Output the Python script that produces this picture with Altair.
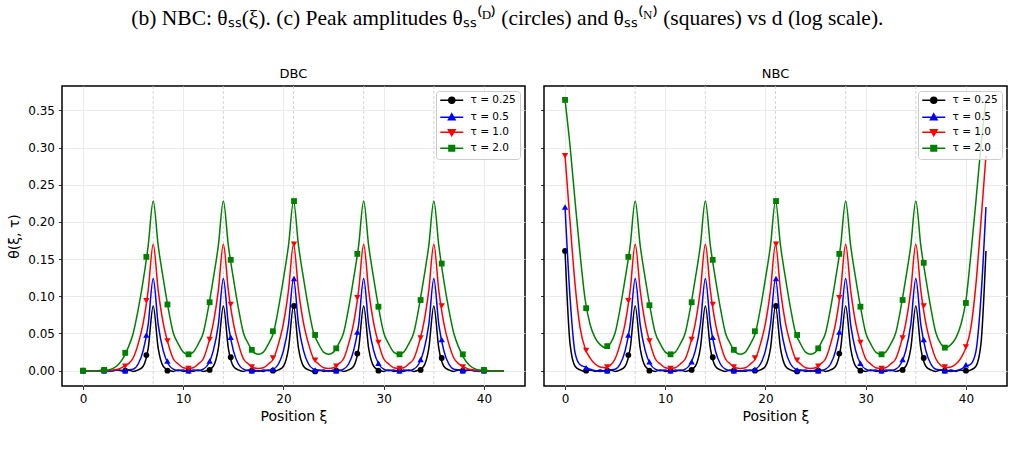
import altair as alt
import pandas as pd

# ---------------- data ----------------
X = [0, 0.5, 1, 1.5, 2, 2.5, 3, 3.5, 4, 4.5, 5, 5.5, 6, 6.5, 7, 7.5, 8, 8.5, 9, 9.5,
     10, 10.5, 11, 11.5, 12, 12.5, 13, 13.5, 14, 14.5, 15, 15.5, 16, 16.5, 17, 17.5,
     18, 18.5, 19, 19.5, 20, 20.5, 21, 21.5, 22, 22.5, 23, 23.5, 24, 24.5, 25, 25.5,
     26, 26.5, 27, 27.5, 28, 28.5, 29, 29.5, 30, 30.5, 31, 31.5, 32, 32.5, 33, 33.5,
     34, 34.5, 35, 35.5, 36, 36.5, 37, 37.5, 38, 38.5, 39, 39.5, 40, 40.5, 41, 41.5, 42]

DBC_K = [0, 0, 0, 0, 0, 0, 0, 0.001, -0.001, 0.001, -0.001, 0.001, 0.006, 0.030,
         0.087,
         0.030, 0.006, 0.001, -0.001, 0.001, -0.001, 0.000, -0.001, 0.001, -0.001, 0.001, 0.006, 0.030,
         0.087,
         0.030, 0.006, 0.001, -0.001, 0.001, -0.001, 0.000, -0.001, 0.001, -0.001, 0.001, 0.006, 0.030,
         0.087,
         0.030, 0.006, 0.001, -0.001, 0.001, -0.001, 0.000, -0.001, 0.001, -0.001, 0.001, 0.006, 0.030,
         0.087,
         0.030, 0.006, 0.001, -0.001, 0.001, -0.001, 0.000, -0.001, 0.001, -0.001, 0.001, 0.006, 0.030,
         0.087,
         0.030, 0.006, 0.001, -0.001, 0.001, -0.001, 0.001, 0, 0, 0, 0, 0, 0, 0]
DBC_B = [0, 0, 0, 0, 0, -0.001, 0, 0.001, 0, 0.001, 0.002, 0.009, 0.027, 0.062,
         0.124,
         0.062, 0.027, 0.009, 0.002, 0.000, 0.001, -0.001, 0.001, 0.000, 0.002, 0.009, 0.027, 0.062,
         0.124,
         0.062, 0.027, 0.009, 0.002, 0.000, 0.001, -0.001, 0.001, 0.000, 0.002, 0.009, 0.027, 0.062,
         0.124,
         0.062, 0.027, 0.009, 0.002, 0.000, 0.001, -0.001, 0.001, 0.000, 0.002, 0.009, 0.027, 0.062,
         0.124,
         0.062, 0.027, 0.009, 0.002, 0.000, 0.001, -0.001, 0.001, 0.000, 0.002, 0.009, 0.027, 0.062,
         0.124,
         0.062, 0.027, 0.009, 0.002, 0.001, 0, 0.001, 0, -0.001, 0, 0, 0, 0, 0]
DBC_R = [0, 0, 0, 0, 0, 0, 0.001, 0.002, 0.005, 0.009, 0.017, 0.036, 0.064, 0.108,
         0.170,
         0.108, 0.064, 0.036, 0.016, 0.009, 0.004, 0.003, 0.004, 0.009, 0.016, 0.036, 0.064, 0.108,
         0.170,
         0.108, 0.064, 0.036, 0.016, 0.009, 0.004, 0.003, 0.004, 0.009, 0.016, 0.036, 0.064, 0.108,
         0.170,
         0.108, 0.064, 0.036, 0.016, 0.009, 0.004, 0.003, 0.004, 0.009, 0.016, 0.036, 0.064, 0.108,
         0.170,
         0.108, 0.064, 0.036, 0.016, 0.009, 0.004, 0.003, 0.004, 0.009, 0.016, 0.036, 0.064, 0.108,
         0.170,
         0.108, 0.064, 0.036, 0.017, 0.009, 0.005, 0.002, 0.001, 0, 0, 0, 0, 0, 0]
DBC_G = [0, 0, 0, 0, 0.001, 0.001, 0.003, 0.008, 0.017, 0.031, 0.050, 0.082, 0.121, 0.168,
         0.228,
         0.168, 0.124, 0.084, 0.051, 0.036, 0.025, 0.022, 0.025, 0.036, 0.051, 0.084, 0.124, 0.168,
         0.228,
         0.168, 0.124, 0.084, 0.051, 0.036, 0.025, 0.022, 0.025, 0.036, 0.051, 0.084, 0.124, 0.168,
         0.228,
         0.168, 0.124, 0.084, 0.051, 0.036, 0.025, 0.022, 0.025, 0.036, 0.051, 0.084, 0.124, 0.168,
         0.228,
         0.168, 0.124, 0.084, 0.051, 0.036, 0.025, 0.022, 0.025, 0.036, 0.051, 0.084, 0.124, 0.168,
         0.228,
         0.168, 0.121, 0.082, 0.050, 0.031, 0.017, 0.008, 0.003, 0.001, 0.001, 0, 0, 0, 0]

NBC_K = [0.161, 0.036, 0.006, 0.001, -0.001, 0.001, -0.001, 0.001, -0.001, 0.001, -0.001, 0.001, 0.006, 0.030,
         0.087,
         0.030, 0.006, 0.001, -0.001, 0.001, -0.001, 0.000, -0.001, 0.001, -0.001, 0.001, 0.006, 0.030,
         0.087,
         0.030, 0.006, 0.001, -0.001, 0.001, -0.001, 0.000, -0.001, 0.001, -0.001, 0.001, 0.006, 0.030,
         0.087,
         0.030, 0.006, 0.001, -0.001, 0.001, -0.001, 0.000, -0.001, 0.001, -0.001, 0.001, 0.006, 0.030,
         0.087,
         0.030, 0.006, 0.001, -0.001, 0.001, -0.001, 0.000, -0.001, 0.001, -0.001, 0.001, 0.006, 0.030,
         0.087,
         0.030, 0.006, 0.001, -0.001, 0.001, -0.001, 0.001, -0.001, 0.001, -0.001, 0.001, 0.006, 0.036, 0.161]
NBC_B = [0.220, 0.098, 0.024, 0.008, 0.005, 0.002, 0, -0.001, 0, 0.001, 0.002, 0.009, 0.027, 0.062,
         0.124,
         0.062, 0.027, 0.009, 0.002, 0.000, 0.001, -0.001, 0.001, 0.000, 0.002, 0.009, 0.027, 0.062,
         0.124,
         0.062, 0.027, 0.009, 0.002, 0.000, 0.001, -0.001, 0.001, 0.000, 0.002, 0.009, 0.027, 0.062,
         0.124,
         0.062, 0.027, 0.009, 0.002, 0.000, 0.001, -0.001, 0.001, 0.000, 0.002, 0.009, 0.027, 0.062,
         0.124,
         0.062, 0.027, 0.009, 0.002, 0.000, 0.001, -0.001, 0.001, 0.000, 0.002, 0.009, 0.027, 0.062,
         0.124,
         0.062, 0.027, 0.009, 0.002, 0.001, 0, -0.001, 0, 0.002, 0.006, 0.009, 0.026, 0.098, 0.220]
NBC_R = [0.289, 0.200, 0.116, 0.058, 0.030, 0.017, 0.009, 0.005, 0.004, 0.007, 0.016, 0.036, 0.064, 0.108,
         0.170,
         0.108, 0.064, 0.036, 0.016, 0.009, 0.004, 0.003, 0.004, 0.009, 0.016, 0.036, 0.064, 0.108,
         0.170,
         0.108, 0.064, 0.036, 0.016, 0.009, 0.004, 0.003, 0.004, 0.009, 0.016, 0.036, 0.064, 0.108,
         0.170,
         0.108, 0.064, 0.036, 0.016, 0.009, 0.004, 0.003, 0.004, 0.009, 0.016, 0.036, 0.064, 0.108,
         0.170,
         0.108, 0.064, 0.036, 0.016, 0.009, 0.004, 0.003, 0.004, 0.009, 0.016, 0.036, 0.064, 0.108,
         0.170,
         0.108, 0.064, 0.036, 0.016, 0.007, 0.004, 0.005, 0.009, 0.017, 0.031, 0.058, 0.116, 0.200, 0.289]
NBC_G = [0.364, 0.302, 0.228, 0.157, 0.096, 0.062, 0.044, 0.035, 0.031, 0.036, 0.051, 0.084, 0.124, 0.168,
         0.228,
         0.168, 0.124, 0.084, 0.051, 0.036, 0.025, 0.022, 0.025, 0.036, 0.051, 0.084, 0.124, 0.168,
         0.228,
         0.168, 0.124, 0.084, 0.051, 0.036, 0.025, 0.022, 0.025, 0.036, 0.051, 0.084, 0.124, 0.168,
         0.228,
         0.168, 0.124, 0.084, 0.051, 0.036, 0.025, 0.022, 0.025, 0.036, 0.051, 0.084, 0.124, 0.168,
         0.228,
         0.168, 0.124, 0.084, 0.051, 0.036, 0.025, 0.022, 0.025, 0.036, 0.051, 0.084, 0.124, 0.168,
         0.228,
         0.168, 0.124, 0.084, 0.051, 0.036, 0.031, 0.035, 0.044, 0.062, 0.094, 0.157, 0.228, 0.302, 0.364]

# marker positions (every 20th sample of the solver grid)
MX = [0.0, 2.105, 4.211, 6.316, 8.421, 10.526, 12.632, 14.737, 16.842, 18.947,
      21.053, 23.158, 25.263, 27.368, 29.474, 31.579, 33.684, 35.789, 37.895, 40.0]

DBC_MK_K = [0, 0, 0, 0.021, 0, 0, 0.001, 0.018, 0, 0, 0.087, -0.001, 0, 0.023, 0, 0, 0.001, 0.017, 0, 0]
DBC_MK_B = [0, 0, 0, 0.048, 0.013, 0, 0.013, 0.045, 0, 0.002, 0.124, 0.001, 0, 0.052, 0.010, 0, 0.015, 0.042, 0, 0]
DBC_MK_R = [0, 0, 0.006, 0.094, 0.040, 0.003, 0.042, 0.089, 0.005, 0.017, 0.170, 0.014, 0.006, 0.098, 0.038, 0.003, 0.044, 0.087, 0.005, 0]
DBC_MK_G = [0, 0.001, 0.024, 0.153, 0.089, 0.022, 0.092, 0.149, 0.028, 0.053, 0.228, 0.048, 0.030, 0.157, 0.086, 0.022, 0.095, 0.144, 0.022, 0.001]

NBC_MK_K = [0.161, 0, 0, 0.021, 0, 0, 0.001, 0.018, 0, 0, 0.087, -0.001, 0, 0.023, 0, 0, 0.001, 0.017, 0, 0]
NBC_MK_B = [0.220, 0.004, 0, 0.048, 0.012, 0, 0.012, 0.045, 0, 0.002, 0.124, 0.001, 0, 0.052, 0.010, 0, 0.015, 0.042, 0, 0.008]
NBC_MK_R = [0.289, 0.027, 0.005, 0.094, 0.040, 0.003, 0.042, 0.089, 0.005, 0.017, 0.170, 0.014, 0.006, 0.098, 0.038, 0.003, 0.044, 0.087, 0.005, 0.032]
NBC_MK_G = [0.364, 0.084, 0.033, 0.153, 0.088, 0.022, 0.092, 0.149, 0.028, 0.053, 0.228, 0.048, 0.030, 0.157, 0.086, 0.022, 0.095, 0.145, 0.031, 0.091]

PEAKS = [7, 14, 21, 28, 35]
TAUS = ["τ = 0.25", "τ = 0.5", "τ = 1.0", "τ = 2.0"]
COLORS = ["#000000", "#0000ff", "#ff0000", "#008000"]
SHAPES = ["circle", "triangle-up", "triangle-down", "square"]
X_TICKS = [0, 10, 20, 30, 40]
Y_TICKS = [0.0, 0.05, 0.10, 0.15, 0.20, 0.25, 0.30, 0.35]
CAPTION = "(b) NBC: θₛₛ(ξ). (c) Peak amplitudes θₛₛ⁽ᴰ⁾ (circles) and θₛₛ⁽ᴺ⁾ (squares) vs d (log scale)."

# legend glyphs: short line with the series marker on it
_LINE = "M-1.25,0H4.5"
LEGEND_PATHS = [
    _LINE + "M2.375,0A0.75,0.75,0,1,1,0.875,0A0.75,0.75,0,1,1,2.375,0Z",
    _LINE + "M1.625,-0.85L2.45,0.6L0.8,0.6Z",
    _LINE + "M1.625,0.85L2.45,-0.6L0.8,-0.6Z",
    _LINE + "M0.925,-0.7H2.325V0.7H0.925Z",
]

XS = alt.Scale(domain=[-2.1, 44.1], nice=False, zero=False)
YS = alt.Scale(domain=[-0.0206, 0.3827], nice=False, zero=False)


def panel(name, lines, marks, first):
    xaxis = alt.Axis(values=X_TICKS, format="d", grid=True, title="Position ξ")
    if first:
        yaxis = alt.Axis(values=Y_TICKS, format=".2f", grid=True, title="θ(ξ, τ)")
    else:
        yaxis = alt.Axis(values=Y_TICKS, format=".2f", grid=True, labels=False, title=None)

    def enc(xf, yf):
        return dict(
            x=alt.X(xf, type="quantitative", scale=XS, axis=xaxis),
            y=alt.Y(yf, type="quantitative", scale=YS, axis=yaxis),
        )

    layers = []
    rules = alt.Chart(pd.DataFrame({"p": PEAKS})).mark_rule(
        color="#cccccc", strokeDash=[3, 2], strokeWidth=0.8
    ).encode(x=alt.X("p", type="quantitative", scale=XS, axis=xaxis))
    layers.append(rules)

    for i in range(4):
        ldf = pd.DataFrame({"x": X, "y": lines[i]})
        mdf = pd.DataFrame({"mx": MX, "my": marks[i]})
        layers.append(
            alt.Chart(ldf).mark_line(color=COLORS[i], strokeWidth=1.5, interpolate="monotone")
            .encode(**enc("x", "y"))
        )
        size = 34 if SHAPES[i] in ("circle", "square") else 40
        layers.append(
            alt.Chart(mdf).mark_point(shape=SHAPES[i], filled=True, size=size, opacity=1, color=COLORS[i])
            .encode(**enc("mx", "my"))
        )

    leg = alt.Legend(
        title=None, orient="top-right", offset=5, padding=4, labelOffset=20,
        symbolSize=64, symbolStrokeWidth=1.5, symbolOpacity=1,
        labelFont="DejaVu Sans", labelFontSize=10.5, labelColor="#000000",
        fillColor="rgba(255,255,255,0.8)", strokeColor="#cccccc", cornerRadius=3,
        rowPadding=3,
    )
    empty = pd.DataFrame({"lx": pd.Series([], dtype=float),
                          "ly": pd.Series([], dtype=float),
                          "tau": pd.Series([], dtype=str)})
    legend_layer = alt.Chart(empty).mark_point(filled=True, size=64, opacity=1, strokeWidth=1.5).encode(
        **enc("lx", "ly"),
        fill=alt.Fill("tau:N", scale=alt.Scale(domain=TAUS, range=COLORS), legend=leg),
        stroke=alt.Stroke("tau:N", scale=alt.Scale(domain=TAUS, range=COLORS), legend=leg),
        shape=alt.Shape("tau:N", scale=alt.Scale(domain=TAUS, range=LEGEND_PATHS), legend=leg),
    )
    layers.append(legend_layer)

    return alt.layer(*layers).properties(
        width=463, height=300,
        title=alt.TitleParams(name, font="DejaVu Sans", fontSize=13, fontWeight="normal",
                              color="#000000", offset=5),
    )


left = panel("DBC", [DBC_K, DBC_B, DBC_R, DBC_G],
             [DBC_MK_K, DBC_MK_B, DBC_MK_R, DBC_MK_G], True)
right = panel("NBC", [NBC_K, NBC_B, NBC_R, NBC_G],
              [NBC_MK_K, NBC_MK_B, NBC_MK_R, NBC_MK_G], False)

chart = alt.hconcat(left, right, spacing=13).resolve_scale(
    fill="independent", stroke="independent", shape="independent"
).resolve_legend(
    fill="independent", stroke="independent", shape="independent"
).properties(
    title=alt.TitleParams(CAPTION, font="Liberation Serif", fontSize=21.5, fontWeight="normal",
                          color="#000000", anchor="middle", offset=37),
    padding={"left": 7, "top": 8, "right": 5, "bottom": 5},
).configure_view(
    stroke="#000000", strokeWidth=1.5
).configure_axis(
    domain=False,
    labelFont="DejaVu Sans", labelFontSize=12, labelColor="#000000", labelPadding=4,
    tickColor="#000000", tickSize=3.5, tickWidth=0.8,
    gridColor="#e6e6e6", gridWidth=0.8,
    titleFont="DejaVu Sans", titleFontSize=14, titleFontWeight="normal", titleColor="#000000",
).configure_axisX(titlePadding=5).configure_axisY(titlePadding=6)

chart.save("out.html", embed_options={"renderer": "svg", "actions": False})
